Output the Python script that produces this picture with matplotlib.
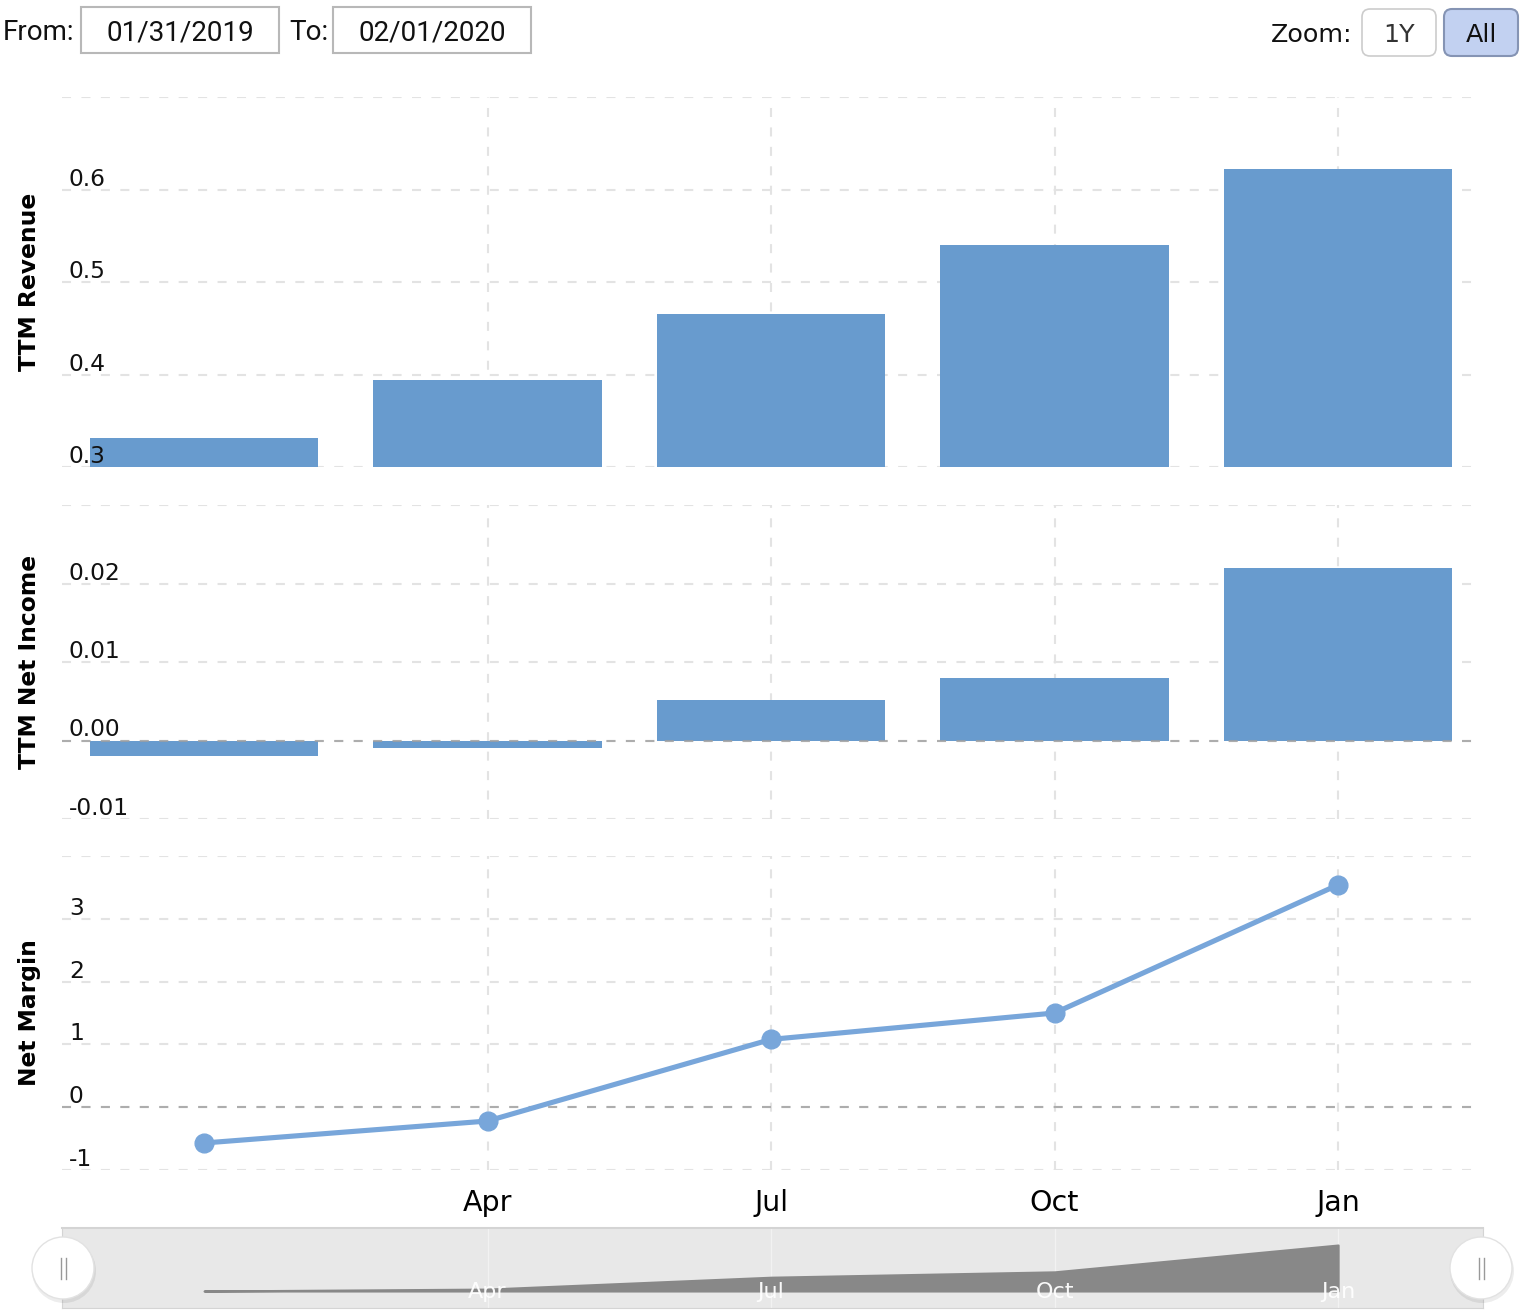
import matplotlib
matplotlib.use("Agg")
import matplotlib.pyplot as plt
import matplotlib.transforms as mtransforms
from matplotlib.patches import Rectangle, FancyBboxPatch, Ellipse
import numpy as np

plt.rcParams['lines.scale_dashes'] = False

# ---------------- data ----------------
dates = ['2019-01-31', '2019-04-30', '2019-07-31', '2019-10-31', '2020-01-31']
revenue = [0.331, 0.394, 0.465, 0.540, 0.622]
net_income = [-0.0020, -0.0010, 0.0052, 0.0080, 0.0220]
net_margin = [-0.57, -0.22, 1.08, 1.50, 3.54]
month_ticks = [1, 2, 3, 4]
month_labels = ['Apr', 'Jul', 'Oct', 'Jan']

rev_ticks = [0.3, 0.4, 0.5, 0.6, 0.7]
rev_labels = ['0.3', '0.4', '0.5', '0.6', '']
ni_ticks = [-0.01, 0.0, 0.01, 0.02, 0.03]
ni_labels = ['-0.01', '0.00', '0.01', '0.02', '']
nm_ticks = [-1, 0, 1, 2, 3, 4]
nm_labels = ['-1', '0', '1', '2', '3', '']

# ---------------- style ----------------
BAR = '#689bce'
LINE = '#78a6da'
GRID = '#e3e3e3'
ZERO = '#a0a0a0'
DASH = (0, (6.5, 7.5))
W, H = 1526, 1314
x = np.arange(len(dates))
XLIM = (-0.501, 4.476)

fig = plt.figure(figsize=(W / 100, H / 100), dpi=100)


def frac(left, top, right, bottom):
    return [left / W, 1 - bottom / H, (right - left) / W, (bottom - top) / H]


ax1 = fig.add_axes(frac(62, 97, 1473, 467))
ax2 = fig.add_axes(frac(62, 505, 1473, 819))
ax3 = fig.add_axes(frac(62, 856, 1473, 1170))


def style(ax, ticks, labels, ylim, ylabel):
    ax.set_xlim(*XLIM)
    ax.set_ylim(*ylim)
    ax.set_yticks(ticks)
    ax.set_xticks(month_ticks)
    for s in ax.spines.values():
        s.set_visible(False)
    ax.tick_params(axis='both', length=0, labelleft=False, labelbottom=False)
    ax.grid(True, color=GRID, lw=1.5, linestyle=DASH, zorder=0)
    ax.set_axisbelow(True)
    trans = mtransforms.blended_transform_factory(ax.transAxes, ax.transData)
    trans = mtransforms.offset_copy(trans, fig=fig, x=7, y=4, units='dots')
    for v, s in zip(ticks, labels):
        if s:
            ax.text(0, v, s, transform=trans, ha='left', va='baseline',
                    fontsize=16.8, color='#111111', zorder=6, family='DejaVu Sans')
    ax.set_ylabel(ylabel, fontsize=16.8, fontweight='bold', family='DejaVu Sans')
    ax.yaxis.label.set_va('center')
    ax.yaxis.set_label_coords(-0.0227, 0.5)


style(ax1, rev_ticks, rev_labels, (0.3, 0.7), 'TTM Revenue')
style(ax2, ni_ticks, ni_labels, (-0.01, 0.03), 'TTM Net Income')
style(ax3, nm_ticks, nm_labels, (-1, 4), 'Net Margin')

ax1.bar(x, revenue, width=0.805, color=BAR, zorder=2)
ax2.bar(x, net_income, width=0.805, color=BAR, zorder=2)
ax2.axhline(0, color=ZERO, lw=1.5, linestyle=DASH, zorder=3, alpha=0.8)
ax3.axhline(0, color=ZERO, lw=1.5, linestyle=DASH, zorder=1, alpha=0.8)
ax3.plot(x, net_margin, color=LINE, lw=3.7, marker='o', markersize=13.5,
         markerfacecolor=LINE, markeredgecolor=LINE, zorder=4, clip_on=False)

ax3.tick_params(axis='x', labelbottom=True, pad=14, labelsize=20.5)
ax3.set_xticklabels(month_labels, family='DejaVu Sans')

# ---------------- navigator ----------------
axn = fig.add_axes(frac(62, 1228, 1483, 1308))
axn.set_facecolor('#e8e8e8')
nmin = min(net_income)
axn.set_ylim(nmin - 17 / 1917, max(net_income) + 17 / 1917)
axn.set_xlim(-0.501, 4.511)
axn.fill_between(x, net_income, nmin, color='#888888', lw=1.5, edgecolor='#888888', zorder=2)
for t, lab in zip(month_ticks, month_labels):
    axn.axvline(t, color='#f2f2f2', lw=1, zorder=1)
    axn.text(t, nmin, lab, ha='center', va='center', color='white', fontsize=16,
             family='DejaVu Sans', zorder=3, alpha=0.95,
             transform=mtransforms.offset_copy(axn.transData, fig=fig, y=-1, units='dots'))
axn.set_xticks([])
axn.set_yticks([])
for k, s in axn.spines.items():
    s.set_color('#d4d4d4')
    s.set_linewidth(1.5 if k == 'top' else 0.8)

# ---------------- overlay decorations (toolbar, handles) ----------------
ov = fig.add_axes([0, 0, 1, 1], zorder=10)
ov.set_xlim(0, W)
ov.set_ylim(H, 0)
ov.axis('off')
ov.patch.set_alpha(0)

FS = 20
ov.text(3, 30, 'From:', ha='left', va='center_baseline', fontsize=FS, family='Roboto', color='#111')
ov.add_patch(Rectangle((81, 7), 198, 46, facecolor='white', edgecolor='#b8b8b8', lw=1.5))
ov.text(180, 30, '01/31/2019', ha='center', va='center_baseline', fontsize=FS, family='Roboto', color='#111')
ov.text(289, 30, 'To:', ha='left', va='center_baseline', fontsize=FS, family='Roboto', color='#111')
ov.add_patch(Rectangle((333, 7), 198, 46, facecolor='white', edgecolor='#b8b8b8', lw=1.5))
ov.text(432, 30, '02/01/2020', ha='center', va='center_baseline', fontsize=FS, family='Roboto', color='#111')

ov.text(1271, 32, 'Zoom:', ha='left', va='center_baseline', fontsize=18.3, family='DejaVu Sans', color='#111')
ov.add_patch(FancyBboxPatch((1362, 9), 74, 47, boxstyle='round,pad=0,rounding_size=8',
                            facecolor='white', edgecolor='#cccccc', lw=1.2))
ov.text(1399, 32, '1Y', ha='center', va='center_baseline', fontsize=18.3, family='DejaVu Sans', color='#333')
ov.add_patch(FancyBboxPatch((1444, 9), 74, 47, boxstyle='round,pad=0,rounding_size=8',
                            facecolor='#c2d1f1', edgecolor='#8594b4', lw=1.5))
ov.text(1481, 32, 'All', ha='center', va='center_baseline', fontsize=18.3, family='DejaVu Sans', color='#111')

for cx in (63, 1481):
    ov.add_patch(Ellipse((cx + 1, 1271), 64, 64, facecolor='#000000', alpha=0.07, lw=0))
    ov.add_patch(Ellipse((cx, 1268), 62, 62, facecolor='white', edgecolor='#e2e2e2', lw=1))
    ov.plot([cx - 2.5, cx - 2.5], [1258, 1279], color='#999999', lw=1)
    ov.plot([cx + 2.5, cx + 2.5], [1258, 1279], color='#999999', lw=1)

fig.savefig('out.png', dpi=100)
